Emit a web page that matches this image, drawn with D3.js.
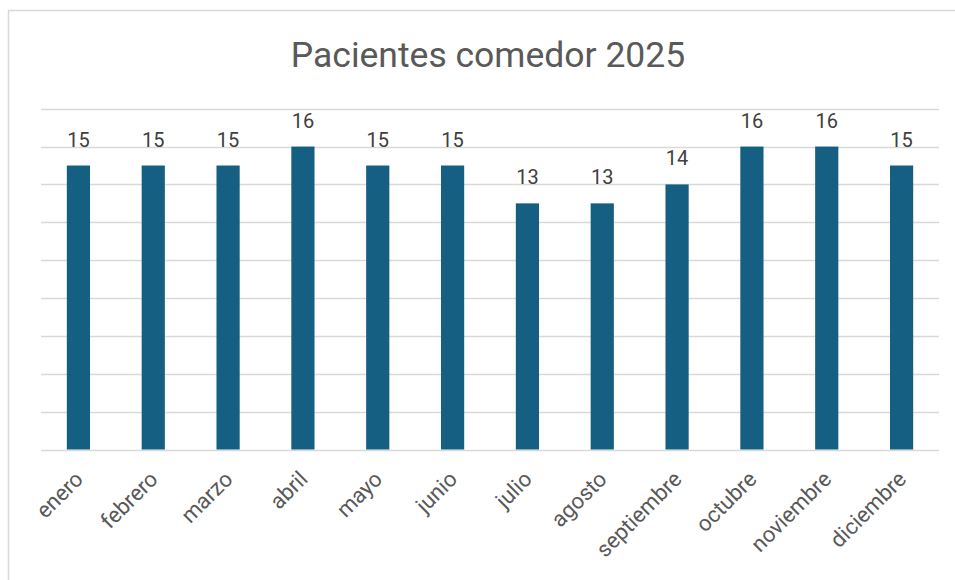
<!DOCTYPE html>
<html><head><meta charset="utf-8">
<script src="https://cdn.jsdelivr.net/npm/d3@7"></script>
<style>body{margin:0;background:#fff;}svg{display:block;}</style>
</head><body>
<svg id="chart" width="955" height="580"></svg>
<script>
const title = "Pacientes comedor 2025";
const months = ["enero","febrero","marzo","abril","mayo","junio","julio","agosto","septiembre","octubre","noviembre","diciembre"];
const patients = [15,15,15,16,15,15,13,13,14,16,16,15];
const yTicks = [0,2,4,6,8,10,12,14,16,18];

const svg = d3.select("#chart");
const font = "Roboto, 'Open Sans', sans-serif";

// outer border (chart frame extends past the window)
svg.append("rect").attr("x",8.5).attr("y",10.5).attr("width",1000).attr("height",600)
  .attr("fill","#fff").attr("stroke","#d9d9d9").attr("stroke-width",1.5);

const x = d3.scaleBand().domain(months).range([41,939]).paddingInner(0.69).paddingOuter(0.345);
const y = d3.scaleLinear().domain([0,18]).range([449.5,108.7]);

// gridlines
svg.append("g").selectAll("line").data(yTicks).join("line")
  .attr("x1",41).attr("x2",939)
  .attr("y1",d=>Math.round(y(d))+0.5).attr("y2",d=>Math.round(y(d))+0.5)
  .attr("stroke","#d9d9d9").attr("stroke-width",1.5);

// bars
svg.append("g").selectAll("rect").data(patients).join("rect")
  .attr("x",(d,i)=>x(months[i])).attr("width",x.bandwidth())
  .attr("y",d=>y(d)).attr("height",d=>y(0)-y(d))
  .attr("fill","#156082");

// data labels
svg.append("g").selectAll("text").data(patients).join("text")
  .attr("x",(d,i)=>x(months[i])+x.bandwidth()/2)
  .attr("y",d=>y(d)-19)
  .attr("text-anchor","middle")
  .attr("font-family",font).attr("font-size",20).attr("fill","#404040")
  .text(d=>d);

// x axis labels
const xAxis = d3.axisBottom(x).tickSize(0).tickPadding(0);
const gx = svg.append("g").attr("transform","translate(0,449.5)").call(xAxis);
gx.select(".domain").remove();
gx.selectAll("text")
  .attr("font-family",font).attr("font-size",22).attr("fill","#595959")
  .attr("text-anchor","end")
  .attr("dy",0).attr("y",0)
  .attr("transform","translate(6,31) rotate(-45)");

// title
svg.append("text").attr("x",488).attr("y",66.5).attr("text-anchor","middle")
  .attr("font-family",font).attr("font-size",35.5).attr("fill","#595959")
  .text(title);
</script>
</body></html>
